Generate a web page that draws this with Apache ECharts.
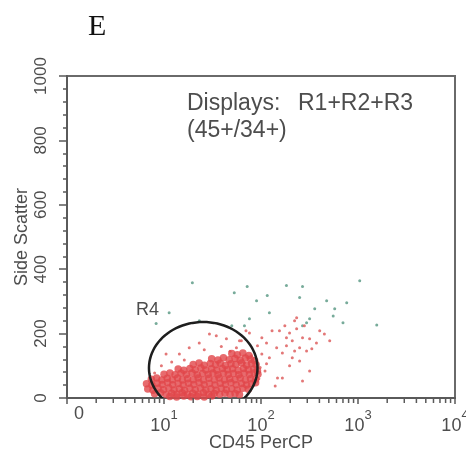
<!DOCTYPE html>
<html><head><meta charset="utf-8">
<script src="https://cdn.jsdelivr.net/npm/echarts@6/dist/echarts.min.js"></script>
<style>html,body{margin:0;padding:0;background:#fff}#c{width:466px;height:452px}</style>
</head><body><div id="c"></div>
<script>
const panelLabel = 'E';
const xAxisTitle = 'CD45 PerCP';
const yAxisTitle = 'Side Scatter';
const yTicks = [0, 200, 400, 600, 800, 1000];
const xDecades = [1, 10, 100, 1000, 10000];
const xMinorTicks = [2,3,4,5,6,7,8,9,20,30,40,50,60,70,80,90,200,300,400,500,600,700,800,900,2000,3000,4000,5000,6000,7000,8000,9000];
const gateName = 'R4';
const gateCenter = [25.5, 93];
const gateXRange = [7.0, 92];
const gateTop = 236;
const displayLine1 = ['Displays:', 'R1+R2+R3'];
const displayLine2 = '(45+/34+)';

const coreEvents = [
 [50,138],[57,134],[65,140],[75,132],
 [31,122],[36,118],[41,125],[47,119],[54,123],[61,117],[69,124],[78,120],[86,116],
 [20,104],[23,109],[26,102],[30,107],[34,103],[38,108],[43,101],[49,106],[55,104],[63,109],[71,102],[80,107],[89,103],
 [14,90],[16,86],[18.5,92],[21,88],[24,93],[27,87],[31,91],[35,86],[40,92],[45,88],[51,91],[58,86],[66,92],[74,88],[84,90],[92,85],
 [10,74],[11.5,78],[13,72],[15,77],[17,73],[19.5,78],[22,72],[25,76],[28.5,73],[32,78],[36,72],[41,77],[46,73],[52,76],[59,72],[67,77],[76,73],[85,78],[93,74],
 [7.4,58],[8.4,62],[9.5,56],[10.8,61],[12.2,57],[13.8,62],[15.5,56],[17.5,60],[20,57],[22.5,62],[25.5,56],[29,61],[33,57],[37,62],[42,56],[47.5,60],[54,57],[61,62],[69,56],[78,60],[88,58],
 [6.6,44],[7.5,40],[8.5,46],[9.6,42],[10.9,47],[12.3,41],[14,45],[15.8,40],[17.9,46],[20.3,42],[23,47],[26,41],[29.5,45],[33.5,40],[38,46],[43,42],[49,47],[55.5,41],[63,45],[71,40],[80,44],[88,47],
 [6.8,28],[7.7,24],[8.7,30],[9.9,26],[11.2,31],[12.7,25],[14.4,29],[16.3,24],[18.5,30],[21,26],[23.8,31],[27,25],[30.5,29],[34.5,24],[39,30],[44,26],[50,29],[57,25],[65,30],[74,27],
 [8,13],[9.2,16],[10.5,11],[12,15],[13.6,12],[15.4,16],[17.5,11],[19.8,15],[22.5,12],[25.5,16],[29,11],[33,14],[37.5,12],[42.5,15],[48,12],[54,14],[60,11],
 [11.5,5],[13.5,3],[16,6],[19,4],[22,5],[26,3],[31,6]
];
const sparseRed = [
 [29.4,199],[23.1,171],[34.6,193],[55.8,156],[62.7,178],[76,202],[44,184],[18.2,156],[14.4,137],[10.5,137],[16.2,118],[9.4,100],[80,131],[67.5,109],[26,150],[39,160],[48,145],[12,112],[8,78],[95,60],[98,95],
 [197,202],[233,215],[268,187],[210,178],[183,162],[250,156],[317,184],[373,171],[511,178],[210,125],[250,115],[295,146],[334,153],[155,209],[145,156],[122,125],[114,106],[148,62],[166,62],[268,53],[450,199],[233,249],[183,187],[102,187],[92,162],[102,137],[114,171],[70,209],[60,178],[176,224],[222,240],[280,224],[403,209],[130,209],[110,84],[197,100],[317,84],[140,37],[222,146],[166,140]
];
const greenEvents = [
 [19.6,358],[72,346],[53,327],[183,349],[268,346],[1042,364],[90,302],[116,318],[250,312],[475,302],[765,296],[575,277],[358,277],[555,255],[700,234],[1560,227],[295,234],[317,246],[268,224],[76,246],[122,265],[50,224],[67.5,224],[11.3,265],[8.3,231],[23.1,240]
];

const FONT = 'Liberation Sans, Arial, Helvetica, sans-serif';
const TXT = '#4d4d4d';
const AX = '#5a5a5a';

const chart = echarts.init(document.getElementById('c'), null, {renderer: 'canvas'});
chart.setOption({
  backgroundColor: '#fff',
  animation: false,
  grid: {left: 67, right: 11, top: 76, bottom: 54, outerBoundsMode: 'none', containLabel: false,
         show: true, borderColor: '#6a6a6a', borderWidth: 2, backgroundColor: 'transparent'},
  xAxis: {
    type: 'log', logBase: 10, min: xDecades[0], max: xDecades[xDecades.length - 1],
    name: xAxisTitle, nameLocation: 'middle', nameGap: 36, nameMoveOverlap: false,
    nameTextStyle: {fontFamily: FONT, fontSize: 18, color: TXT},
    axisLine: {lineStyle: {color: AX, width: 2}},
    axisTick: {show: true, length: 6, lineStyle: {color: AX, width: 1.5}},
    splitLine: {show: false},
    axisLabel: {
      margin: 11, color: TXT, fontFamily: FONT, showMaxLabel: true, showMinLabel: true,
      formatter: function (v) {
        const e = Math.round(Math.log10(v));
        if (e === 0) return '{z|0}';
        return '{b|10}{s|' + e + '}';
      },
      rich: {
        z: {fontSize: 18, lineHeight: 10, padding: [0, 0, 0, 24], color: TXT, fontFamily: FONT},
        b: {fontSize: 18, lineHeight: 34, color: TXT, fontFamily: FONT},
        s: {fontSize: 13, lineHeight: 13, verticalAlign: 'top', color: TXT, fontFamily: FONT}
      }
    }
  },
  yAxis: {
    type: 'value', min: yTicks[0], max: yTicks[yTicks.length - 1], interval: yTicks[1] - yTicks[0],
    name: yAxisTitle, nameLocation: 'middle', nameGap: 36, nameRotate: 90, nameMoveOverlap: false,
    nameTextStyle: {fontFamily: FONT, fontSize: 18, color: TXT},
    axisLine: {show: true, lineStyle: {color: AX, width: 2}},
    axisTick: {show: true, length: 8, lineStyle: {color: AX, width: 1.5}},
    minorTick: {show: true, splitNumber: 5, length: 4, lineStyle: {color: AX, width: 1.5}},
    splitLine: {show: false},
    axisLabel: {rotate: 90, margin: 17, color: TXT, fontFamily: FONT, fontSize: 17, formatter: v => String(v)}
  },
  series: [
    {
      type: 'custom', name: 'minor ticks', data: xMinorTicks.map(v => [v, 0]), clip: false, silent: true, z: 5,
      renderItem: function (params, api) {
        const c = api.coord([api.value(0), api.value(1)]);
        return {type: 'line', shape: {x1: c[0], y1: c[1], x2: c[0], y2: c[1] + 5}, style: {stroke: AX, lineWidth: 1.5}};
      }
    },
    {
      type: 'scatter', name: 'green', data: greenEvents, symbolSize: 3,
      itemStyle: {color: '#5f9c88', opacity: 0.85}, silent: true, z: 2
    },
    {
      type: 'scatter', name: 'sparse', data: sparseRed, symbolSize: 3,
      itemStyle: {color: '#e06868', opacity: 0.9}, silent: true, z: 2
    },
    {
      type: 'scatter', name: 'core', data: coreEvents, symbolSize: 7.5,
      itemStyle: {color: '#e1464a'}, silent: true, z: 3
    },
    {
      type: 'custom', name: gateName, clip: true, silent: true, z: 4,
      data: [[gateCenter[0], gateCenter[1], gateXRange[0], gateXRange[1], gateTop]],
      renderItem: function (params, api) {
        const c = api.coord([api.value(0), api.value(1)]);
        const l = api.coord([api.value(2), api.value(1)]);
        const r = api.coord([api.value(3), api.value(1)]);
        const t = api.coord([api.value(0), api.value(4)]);
        const cx = (l[0] + r[0]) / 2, cy = c[1], rx = (r[0] - l[0]) / 2, ry = cy - t[1];
        const pts = [];
        for (let i = 0; i < 96; i++) {
          const a = i / 96 * 2 * Math.PI;
          pts.push([cx + rx * Math.cos(a), cy + ry * Math.sin(a)]);
        }
        return {type: 'polygon', shape: {points: pts}, style: {fill: 'none', stroke: '#1e1e1e', lineWidth: 2.5}};
      }
    }
  ],
  graphic: [
    {type: 'text', left: 88, top: 12, style: {text: panelLabel, font: '30px "Liberation Serif", "Times New Roman", serif', fill: '#111'}},
    {type: 'text', x: 187, y: 104, style: {text: displayLine1[0], font: '23px ' + FONT, fill: TXT, verticalAlign: 'middle'}},
    {type: 'text', x: 298, y: 104, style: {text: displayLine1[1], font: '23px ' + FONT, fill: TXT, verticalAlign: 'middle'}},
    {type: 'text', x: 187, y: 131, style: {text: displayLine2, font: '23px ' + FONT, fill: TXT, verticalAlign: 'middle'}},
    {type: 'text', x: 136, y: 310, style: {text: gateName, font: '18px ' + FONT, fill: TXT, verticalAlign: 'middle'}}
  ]
});
</script></body></html>
